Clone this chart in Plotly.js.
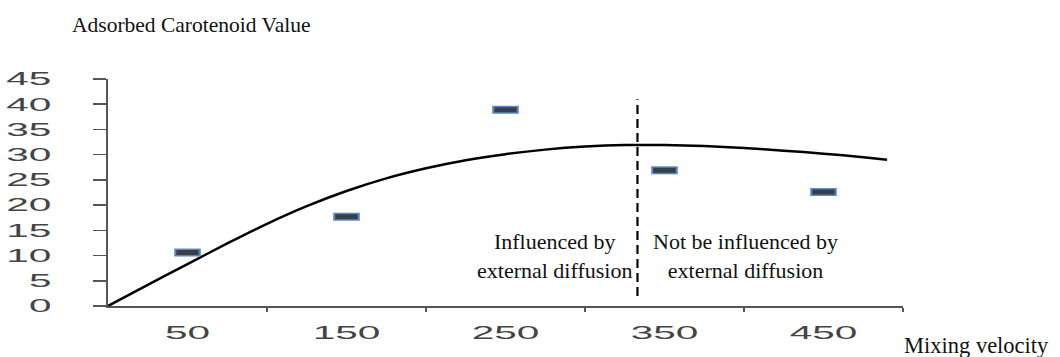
<!DOCTYPE html>
<html>
<head>
<meta charset="utf-8">
<script src="https://cdn.plot.ly/plotly-3.0.1.min.js"></script>
<style>
  html, body { margin: 0; padding: 0; background: #fff; }
  #chart { width: 1060px; height: 357px; }
</style>
</head>
<body>
<div id="chart"></div>
<script>
// ---- data ----
const mixingVelocity = [50, 150, 250, 350, 450];
const adsorbedValue = [10.6, 17.7, 38.9, 26.9, 22.6];

const fitX = [0, 25, 50, 75, 100, 125, 150, 175, 200, 225, 250, 275, 300, 325, 350, 375, 400, 425, 450, 475, 490];
const fitY = [0, 4.2, 8.3, 12.4, 16.3, 19.8, 22.8, 25.3, 27.3, 28.9, 30.1, 31.0, 31.6, 31.9, 31.9, 31.7, 31.3, 30.8, 30.2, 29.5, 29.0];

const dividerX = [333, 333];
const dividerY = [2, 41];

const xTickVals = [50, 150, 250, 350, 450];
const xTickText = ['50', '150', '250', '350', '450'];
const xDividerTicks = [100, 200, 300, 400, 500];
const yTickVals = [0, 5, 10, 15, 20, 25, 30, 35, 40, 45];

const titleText = 'Adsorbed Carotenoid Value';
const xTitleText = 'Mixing velocity';
const leftNote = 'Influenced by<br>external diffusion';
const rightNote = 'Not be influenced by<br>external diffusion';

const serif = 'Liberation Serif, Times New Roman, serif';
const sans = 'Liberation Sans, Arial, sans-serif';

const traces = [
  {
    x: fitX, y: fitY, type: 'scatter', mode: 'lines',
    line: { color: '#000', width: 2.5, shape: 'spline', smoothing: 0.6 },
    hoverinfo: 'skip'
  },
  {
    x: dividerX, y: dividerY, type: 'scatter', mode: 'lines',
    line: { color: '#000', width: 2.2, dash: '9px,5px' },
    hoverinfo: 'skip'
  },
  {
    x: mixingVelocity, y: adsorbedValue, type: 'scatter', mode: 'markers',
    marker: { symbol: 'line-ew', size: 19, line: { width: 8, color: '#5a87c2' } },
    hoverinfo: 'skip'
  },
  {
    x: mixingVelocity, y: adsorbedValue, type: 'scatter', mode: 'markers',
    marker: { symbol: 'line-ew', size: 16, line: { width: 5, color: '#363f4c' } }
  }
];

const layout = {
  width: 1060, height: 357,
  margin: { l: 108, r: 157, t: 79, b: 51 },
  paper_bgcolor: '#fff', plot_bgcolor: '#fff',
  showlegend: false,
  xaxis: {
    range: [0, 500], showgrid: false, zeroline: false,
    showline: true, linecolor: '#555', linewidth: 2,
    tickmode: 'array', tickvals: xTickVals, ticktext: xTickText,
    ticks: '', ticklabelstandoff: 9,
    tickfont: { family: sans, size: 18, color: '#444' },
    minor: { tickmode: 'array', tickvals: xDividerTicks, ticks: 'outside', ticklen: 4, tickwidth: 2, tickcolor: '#555', showgrid: false }
  },
  yaxis: {
    range: [0, 45], showgrid: false, zeroline: false,
    showline: true, linecolor: '#555', linewidth: 2,
    tickmode: 'array', tickvals: yTickVals,
    ticks: 'outside', ticklen: 13, tickwidth: 1.5, tickcolor: '#555',
    ticklabelstandoff: 38,
    tickfont: { family: sans, size: 18, color: '#444' }
  },
  annotations: [
    { xref: 'paper', yref: 'paper', x: (70 - 108) / 795, y: 1 + (79 - 25) / 227,
      xanchor: 'left', yanchor: 'middle', showarrow: false, text: titleText,
      font: { family: serif, size: 21.5, color: '#111' } },
    { xref: 'paper', yref: 'paper', x: (902 - 108) / 795, y: -(345 - 306) / 227,
      xanchor: 'left', yanchor: 'middle', showarrow: false, text: xTitleText,
      font: { family: serif, size: 22.5, color: '#111' } },
    { xref: 'x', yref: 'y', x: 281, y: 9.9, xanchor: 'center', yanchor: 'middle',
      showarrow: false, text: leftNote, align: 'center',
      font: { family: serif, size: 22, color: '#111' } },
    { xref: 'x', yref: 'y', x: 401, y: 9.9, xanchor: 'center', yanchor: 'middle',
      showarrow: false, text: rightNote, align: 'center',
      font: { family: serif, size: 22, color: '#111' } }
  ]
};

const gd = document.getElementById('chart');
Plotly.newPlot(gd, traces, layout, { staticPlot: true, displayModeBar: false }).then(function () {
  // widen tick label glyphs like the reference's stretched digits
  gd.querySelectorAll('.xtick text, .ytick text').forEach(function (t) {
    const w = t.getComputedTextLength();
    if (w > 0) {
      t.setAttribute('textLength', (w * 2.25).toFixed(1));
      t.setAttribute('lengthAdjust', 'spacingAndGlyphs');
    }
  });
});
</script>
</body>
</html>
